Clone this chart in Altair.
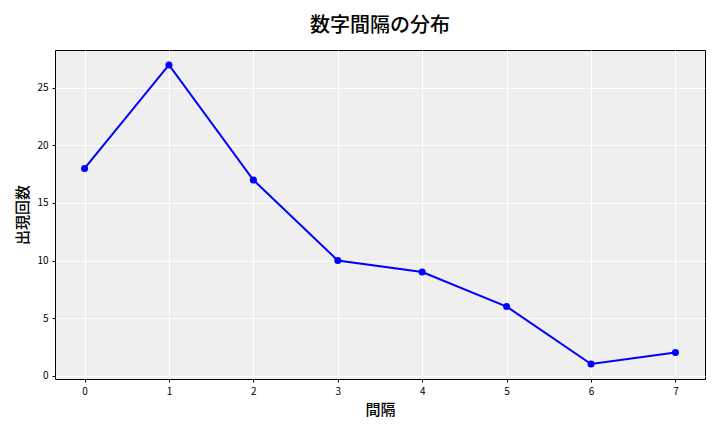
import altair as alt
import pandas as pd

intervals = [0, 1, 2, 3, 4, 5, 6, 7]
counts = [18, 27, 17, 10, 9, 6, 1, 2]

df = pd.DataFrame({"interval": intervals, "count": counts})

FONT = "Noto Sans CJK JP"

base = alt.Chart(df).encode(
    x=alt.X("interval:Q",
            scale=alt.Scale(domain=[-0.35, 7.35], nice=False, zero=False),
            axis=alt.Axis(values=intervals, title="間隔", format="d")),
    y=alt.Y("count:Q",
            scale=alt.Scale(domain=[-0.3, 28.3], nice=False, zero=False),
            axis=alt.Axis(values=[0, 5, 10, 15, 20, 25], title="出現回数")),
)

line = base.mark_line(color="#0000ff", strokeWidth=2)
pts = base.mark_circle(color="#0000ff", size=50, opacity=1)

chart = (line + pts).properties(
    width=650, height=329,
    title=alt.TitleParams("数字間隔の分布", fontSize=20, font=FONT, fontWeight=500,
                          anchor="middle", offset=14, color="black"),
    autosize=alt.AutoSizeParams(type="none"),
    padding={"left": 47, "top": 42, "right": 7, "bottom": 45},
).configure_view(
    fill="#efefef", stroke="black", strokeWidth=1
).configure_axis(
    grid=True, gridColor="white", gridWidth=1,
    domain=False, tickColor="black", tickSize=3,
    labelFont=FONT, labelFontSize=10, labelColor="black",
    titleFont=FONT, titleFontSize=15, titleFontWeight=500, titleColor="black",
    labelPadding=4,
).configure_axisX(titlePadding=6).configure_axisY(titlePadding=6)

chart.save("out.html", embed_options={"renderer": "svg", "actions": False})
